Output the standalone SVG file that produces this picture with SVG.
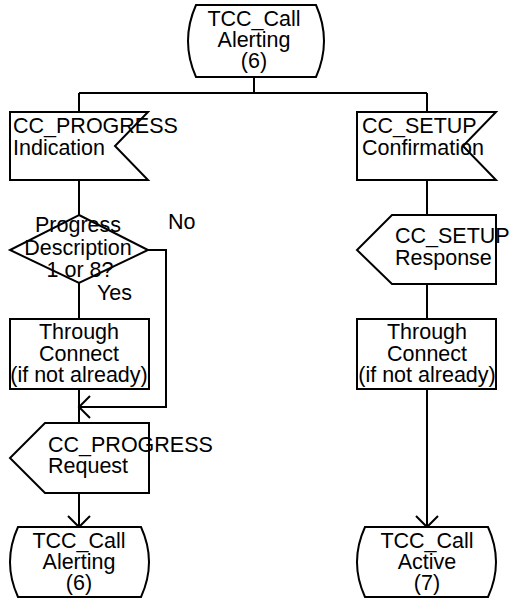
<svg xmlns="http://www.w3.org/2000/svg" width="514" height="602" viewBox="0 0 514 602">
<style>
.s{fill:#fff;stroke:#000;stroke-width:2}
.l{fill:none;stroke:#000;stroke-width:2}
text{font-family:"Liberation Sans",Arial,sans-serif;font-size:21.5px;fill:#000}
.c{text-anchor:middle}
</style>
<rect width="514" height="602" fill="#fff"/>
<g id="connectors">
<path class="l" d="M254,77 V93 M79,93 H427 M79,93 V112 M427,93 V112"/>
<path class="l" d="M79,180 V215 M79,283 V319 M79,389 V423 M79,493 V527"/>
<path class="l" d="M148,250 H166 V407 H79"/>
<path class="l" d="M90,396 L79,407 L90,418"/>
<path class="l" d="M68,516 L79,527 L90,516"/>
<path class="l" d="M427,180 V215 M427,284 V319 M427,389 V527"/>
<path class="l" d="M416,516 L427,527 L438,516"/>
<text x="168" y="229">No</text>
<text x="97" y="300">Yes</text>
</g>
<g id="start">
<path class="s" d="M196,5 L316,5 Q332,41 316,77 L196,77 Q180,41 196,5 Z"/>
<text class="c" x="254" y="26">TCC_Call</text>
<text class="c" x="254" y="47">Alerting</text>
<text class="c" x="254" y="68">(6)</text>
</g>
<g id="progressInd">
<path class="s" d="M10,112 L148,112 L115,146 L148,180 L10,180 Z"/>
<text x="13" y="133">CC_PROGRESS</text>
<text x="13" y="155">Indication</text>
</g>
<g id="setupConf">
<path class="s" d="M357,112 L496,112 L463,146 L496,180 L357,180 Z"/>
<text x="362" y="133">CC_SETUP</text>
<text x="362" y="155">Confirmation</text>
</g>
<g id="decision">
<path class="s" d="M79,215 L148,250 L79,283 L10,250 Z"/>
<text class="c" x="78" y="232">Progress</text>
<text class="c" x="78" y="255">Description</text>
<text class="c" x="80" y="277">1 or 8?</text>
</g>
<g id="setupResp">
<path class="s" d="M392,215 L496,215 L496,284 L392,284 L357,250 Z"/>
<text x="395" y="243">CC_SETUP</text>
<text x="395" y="265">Response</text>
</g>
<g id="throughLeft">
<rect class="s" x="10" y="319" width="139" height="70"/>
<text class="c" x="79" y="339">Through</text>
<text class="c" x="79" y="361">Connect</text>
<text class="c" x="79" y="382">(if not already)</text>
</g>
<g id="throughRight">
<rect class="s" x="357" y="319" width="139" height="70"/>
<text class="c" x="427" y="339">Through</text>
<text class="c" x="427" y="361">Connect</text>
<text class="c" x="427" y="382">(if not already)</text>
</g>
<g id="progressReq">
<path class="s" d="M45,423 L149,423 L149,493 L45,493 L10,458 Z"/>
<text x="48" y="452">CC_PROGRESS</text>
<text x="48" y="473">Request</text>
</g>
<g id="endAlerting">
<path class="s" d="M18,527 L141,527 Q157,562 141,597 L18,597 Q2,562 18,527 Z"/>
<text class="c" x="79" y="548">TCC_Call</text>
<text class="c" x="79" y="569">Alerting</text>
<text class="c" x="79" y="590">(6)</text>
</g>
<g id="endActive">
<path class="s" d="M365,527 L488,527 Q504,562 488,597 L365,597 Q349,562 365,527 Z"/>
<text class="c" x="427" y="548">TCC_Call</text>
<text class="c" x="427" y="569">Active</text>
<text class="c" x="427" y="590">(7)</text>
</g>
</svg>
